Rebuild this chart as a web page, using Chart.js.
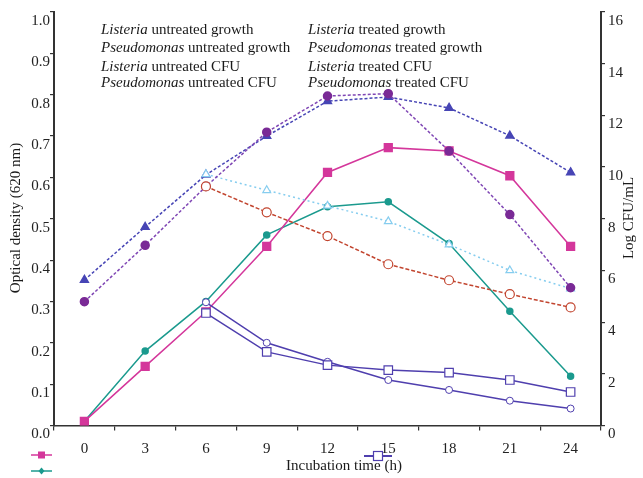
<!DOCTYPE html>
<html><head><meta charset="utf-8">
<script src="https://cdn.jsdelivr.net/npm/chart.js@4/dist/chart.umd.min.js"></script>
<style>html,body{margin:0;padding:0;background:#fff;}#wrap{width:643px;height:478px;position:relative;}</style>
</head><body><div id="wrap"><canvas id="c" width="643" height="478"></canvas></div>
<script>
const times = ['0','3','6','9','12','15','18','21','24'];
const odTickLabels = ['0.0','0.1','0.2','0.3','0.4','0.5','0.6','0.7','0.8','0.9','1.0'];
const cfuTickLabels = ['0','2','4','6','8','10','12','14','16'];
const speciesNames = ['Listeria','Pseudomonas','Listeria','Pseudomonas','Listeria','Pseudomonas','Listeria','Pseudomonas'];
const seriesSuffix = [' untreated growth',' untreated growth',' untreated CFU',' untreated CFU',' treated growth',' treated growth',' treated CFU',' treated CFU'];
const xTitle = 'Incubation time (h)';
const yTitleLeft = 'Optical density (620 nm)';
const yTitleRight = 'Log CFU/mL';

const listeriaUntreatedGrowth    = [0.01, 0.143, 0.275, 0.433, 0.612, 0.672, 0.664, 0.604, 0.433];
const pseudomonasUntreatedGrowth = [0.01, 0.18, 0.30, 0.461, 0.529, 0.541, 0.44, 0.276, 0.119];
const listeriaUntreatedCFU       = [4.79, 6.97, 9.25, 11.35, 12.75, 12.84, 10.62, 8.16, 5.33];
const pseudomonasUntreatedCFU    = [5.63, 7.68, 9.7, 11.2, 12.55, 12.71, 12.29, 11.21, 9.79];
const listeriaTreatedGrowth      = [null, null, 0.272, 0.178, 0.146, 0.134, 0.128, 0.110, 0.081];
const pseudomonasTreatedGrowth   = [null, null, 0.298, 0.200, 0.154, 0.110, 0.086, 0.060, 0.041];
const listeriaTreatedCFU         = [null, null, 9.25, 8.25, 7.33, 6.24, 5.62, 5.08, 4.57];
const pseudomonasTreatedCFU      = [null, null, 9.72, 9.1, 8.5, 7.9, 7.0, 6.0, 5.3];

const PINK = '#d4379b', TEAL = '#1b9a8e', TREAT = '#4f3fae', PURP = '#7a2a96', BLUE = '#4745b5', RED = '#c2452f', LBLUE = '#86cdef';
const SERIF = "'Liberation Serif', 'DejaVu Serif', serif";

const datasets = [
  {label: speciesNames[0]+seriesSuffix[0], data: listeriaUntreatedGrowth, yAxisID:'y', order:5, borderColor: PINK, backgroundColor: PINK, borderWidth:1.5, pointStyle:'rect', pointRadius:5.5, pointBorderColor:PINK, pointBackgroundColor:PINK},
  {label: speciesNames[1]+seriesSuffix[1], data: pseudomonasUntreatedGrowth, yAxisID:'y', order:5, borderColor: TEAL, backgroundColor: TEAL, borderWidth:1.5, pointStyle:'circle', pointRadius:3, pointBorderColor:TEAL, pointBackgroundColor:TEAL},
  {label: speciesNames[2]+seriesSuffix[2], data: listeriaUntreatedCFU, yAxisID:'y1', order:2, borderColor: '#7f46b4', borderDash:[3,2], borderWidth:1.5, pointStyle:'circle', pointRadius:4, pointBorderColor:PURP, pointBackgroundColor:PURP},
  {label: speciesNames[3]+seriesSuffix[3], data: pseudomonasUntreatedCFU, yAxisID:'y1', order:4, borderColor: BLUE, borderDash:[3,2], borderWidth:1.5, pointStyle:'triangle', pointRadius:4.5, pointBorderColor:BLUE, pointBackgroundColor:BLUE},
  {label: speciesNames[4]+seriesSuffix[4], data: listeriaTreatedGrowth, yAxisID:'y', order:0, borderColor: TREAT, borderWidth:1.5, pointStyle:'rect', pointRadius:6, pointBorderColor:TREAT, pointBackgroundColor:'#fff', pointBorderWidth:1.2},
  {label: speciesNames[5]+seriesSuffix[5], data: pseudomonasTreatedGrowth, yAxisID:'y', order:0, borderColor: TREAT, borderWidth:1.5, pointStyle:'circle', pointRadius:3.5, pointBorderColor:TREAT, pointBackgroundColor:'#fff', pointBorderWidth:1},
  {label: speciesNames[6]+seriesSuffix[6], data: listeriaTreatedCFU, yAxisID:'y1', order:1, borderColor: RED, borderDash:[4,2], borderWidth:1.5, pointStyle:'circle', pointRadius:4.5, pointBorderColor:RED, pointBackgroundColor:'#fff', pointBorderWidth:1.2},
  {label: speciesNames[7]+seriesSuffix[7], data: pseudomonasTreatedCFU, yAxisID:'y1', order:3, borderColor: LBLUE, borderDash:[2,3], borderWidth:1.5, pointStyle:'triangle', pointRadius:4.5, pointBorderColor:LBLUE, pointBackgroundColor:'#fff', pointBorderWidth:1.2}
];
datasets.forEach(d => { d.fill = false; d.tension = 0; d.spanGaps = false; });

const extras = {
  id: 'extras',
  afterDraw(chart) {
    const ctx = chart.ctx;
    ctx.save();
    ctx.fillStyle = '#1a1a1a';
    ctx.textBaseline = 'middle';
    const cols = [101, 308];
    const rows = [30, 48.5, 67, 83];
    for (let i = 0; i < 8; i++) {
      const x = cols[Math.floor(i / 4)], y = rows[i % 4];
      ctx.textAlign = 'left';
      ctx.font = 'italic 15px ' + SERIF;
      ctx.fillText(speciesNames[i], x, y);
      const w = ctx.measureText(speciesNames[i]).width;
      ctx.font = '15px ' + SERIF;
      ctx.fillText(seriesSuffix[i], x + w, y);
    }
    ctx.font = '15px ' + SERIF;
    ctx.textAlign = 'center';
    ctx.fillText(xTitle, 344, 466);
    ctx.save(); ctx.translate(16, 218); ctx.rotate(-Math.PI / 2); ctx.fillText(yTitleLeft, 0, 0); ctx.restore();
    ctx.save(); ctx.translate(629, 218); ctx.rotate(-Math.PI / 2); ctx.fillText(yTitleRight, 0, 0); ctx.restore();
    ctx.lineWidth = 1.5;
    ctx.strokeStyle = PINK; ctx.beginPath(); ctx.moveTo(31, 455); ctx.lineTo(52, 455); ctx.stroke();
    ctx.fillStyle = PINK; ctx.fillRect(38, 451.5, 7, 7);
    ctx.strokeStyle = TEAL; ctx.beginPath(); ctx.moveTo(31, 471); ctx.lineTo(52, 471); ctx.stroke();
    ctx.fillStyle = TEAL; ctx.beginPath(); ctx.moveTo(41.5, 467.5); ctx.lineTo(44.5, 471); ctx.lineTo(41.5, 474.5); ctx.lineTo(38.5, 471); ctx.closePath(); ctx.fill();
    ctx.strokeStyle = TREAT; ctx.lineWidth = 2; ctx.beginPath(); ctx.moveTo(364, 456); ctx.lineTo(392, 456); ctx.stroke();
    ctx.fillStyle = '#fff'; ctx.lineWidth = 1.2; ctx.fillRect(373.5, 451.5, 9, 9); ctx.strokeRect(373.5, 451.5, 9, 9);
    ctx.restore();
  }
};

new Chart(document.getElementById('c'), {
  type: 'line',
  data: { labels: times, datasets },
  plugins: [extras],
  options: {
    responsive: false,
    animation: false,
    layout: { padding: { top: 10, bottom: 0, left: 0, right: 0 } },
    plugins: { legend: { display: false }, tooltip: { enabled: false } },
    scales: {
      x: {
        type: 'category', offset: true,
        grid: { display: true, drawOnChartArea: false, drawTicks: true, tickLength: 5, offset: true, color: '#333', lineWidth: 1.2 },
        border: { display: true, color: '#333', width: 1.5 },
        ticks: { color: '#222', font: { family: SERIF, size: 15 }, padding: 10, maxRotation: 0, autoSkip: false },
        afterFit(s) { s.height = 52.5; }
      },
      y: {
        position: 'left', min: 0, max: 1,
        ticks: { stepSize: 0.1, color: '#222', font: { family: SERIF, size: 15 }, padding: 0, labelOffset: 9,
                 callback: (v, i) => odTickLabels[i] },
        grid: { drawOnChartArea: false, tickLength: 4, color: '#333', lineWidth: 1.2 },
        border: { display: true, color: '#333', width: 2 },
        afterFit(s) { s.width = 54; }
      },
      y1: {
        position: 'right', min: 0, max: 16,
        ticks: { stepSize: 2, color: '#222', font: { family: SERIF, size: 15 }, padding: 3, labelOffset: 9,
                 callback: (v, i) => cfuTickLabels[i] },
        grid: { drawOnChartArea: false, tickLength: 4, color: '#333', lineWidth: 1.2 },
        border: { display: true, color: '#333', width: 2 },
        afterFit(s) { s.width = 42; }
      }
    }
  }
});
</script></body></html>
